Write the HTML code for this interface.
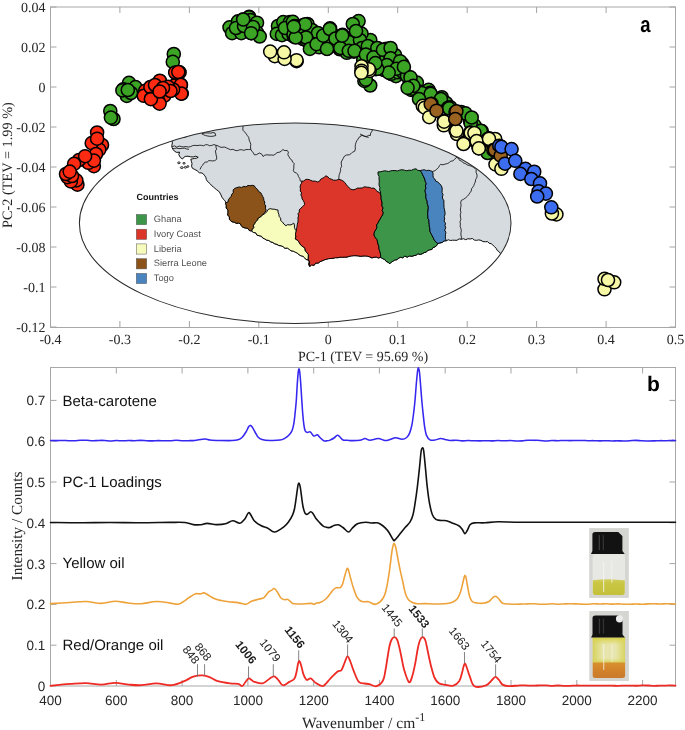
<!DOCTYPE html>
<html><head><meta charset="utf-8"><style>
html,body{margin:0;padding:0;background:#fff;width:685px;height:730px;overflow:hidden}
#wrap{will-change:transform;width:685px;height:730px}
svg{display:block} text{text-rendering:geometricPrecision}
</style></head><body><div id="wrap">
<svg width="685" height="730" viewBox="0 0 685 730">
<rect width="685" height="730" fill="#fff"/>
<g stroke="#a8a8a8" stroke-width="1" fill="none">
<rect x="50.5" y="7.0" width="625.0" height="320.5"/>
</g>
<g stroke="#a4a4a4" stroke-width="1">
<line x1="50.5" y1="327.0" x2="50.5" y2="321.0"/>
<line x1="50.5" y1="7.0" x2="50.5" y2="13.0"/>
<line x1="119.9" y1="327.0" x2="119.9" y2="321.0"/>
<line x1="119.9" y1="7.0" x2="119.9" y2="13.0"/>
<line x1="189.4" y1="327.0" x2="189.4" y2="321.0"/>
<line x1="189.4" y1="7.0" x2="189.4" y2="13.0"/>
<line x1="258.8" y1="327.0" x2="258.8" y2="321.0"/>
<line x1="258.8" y1="7.0" x2="258.8" y2="13.0"/>
<line x1="328.3" y1="327.0" x2="328.3" y2="321.0"/>
<line x1="328.3" y1="7.0" x2="328.3" y2="13.0"/>
<line x1="397.7" y1="327.0" x2="397.7" y2="321.0"/>
<line x1="397.7" y1="7.0" x2="397.7" y2="13.0"/>
<line x1="467.2" y1="327.0" x2="467.2" y2="321.0"/>
<line x1="467.2" y1="7.0" x2="467.2" y2="13.0"/>
<line x1="536.6" y1="327.0" x2="536.6" y2="321.0"/>
<line x1="536.6" y1="7.0" x2="536.6" y2="13.0"/>
<line x1="606.1" y1="327.0" x2="606.1" y2="321.0"/>
<line x1="606.1" y1="7.0" x2="606.1" y2="13.0"/>
<line x1="675.5" y1="327.0" x2="675.5" y2="321.0"/>
<line x1="675.5" y1="7.0" x2="675.5" y2="13.0"/>
<line x1="50.5" y1="7.0" x2="56.5" y2="7.0"/>
<line x1="675.5" y1="7.0" x2="669.5" y2="7.0"/>
<line x1="50.5" y1="47.0" x2="56.5" y2="47.0"/>
<line x1="675.5" y1="47.0" x2="669.5" y2="47.0"/>
<line x1="50.5" y1="87.0" x2="56.5" y2="87.0"/>
<line x1="675.5" y1="87.0" x2="669.5" y2="87.0"/>
<line x1="50.5" y1="127.0" x2="56.5" y2="127.0"/>
<line x1="675.5" y1="127.0" x2="669.5" y2="127.0"/>
<line x1="50.5" y1="167.0" x2="56.5" y2="167.0"/>
<line x1="675.5" y1="167.0" x2="669.5" y2="167.0"/>
<line x1="50.5" y1="207.0" x2="56.5" y2="207.0"/>
<line x1="675.5" y1="207.0" x2="669.5" y2="207.0"/>
<line x1="50.5" y1="247.0" x2="56.5" y2="247.0"/>
<line x1="675.5" y1="247.0" x2="669.5" y2="247.0"/>
<line x1="50.5" y1="287.0" x2="56.5" y2="287.0"/>
<line x1="675.5" y1="287.0" x2="669.5" y2="287.0"/>
<line x1="50.5" y1="327.0" x2="56.5" y2="327.0"/>
<line x1="675.5" y1="327.0" x2="669.5" y2="327.0"/>
</g>
<g style="font-family:'Liberation Serif',serif;font-size:14px" fill="#262626">
<text x="50.5" y="344.3" text-anchor="middle">-0.4</text>
<text x="119.9" y="344.3" text-anchor="middle">-0.3</text>
<text x="189.4" y="344.3" text-anchor="middle">-0.2</text>
<text x="258.8" y="344.3" text-anchor="middle">-0.1</text>
<text x="328.3" y="344.3" text-anchor="middle">0</text>
<text x="397.7" y="344.3" text-anchor="middle">0.1</text>
<text x="467.2" y="344.3" text-anchor="middle">0.2</text>
<text x="536.6" y="344.3" text-anchor="middle">0.3</text>
<text x="606.1" y="344.3" text-anchor="middle">0.4</text>
<text x="675.5" y="344.3" text-anchor="middle">0.5</text>
<text x="45.5" y="11.6" text-anchor="end">0.04</text>
<text x="45.5" y="51.6" text-anchor="end">0.02</text>
<text x="45.5" y="91.6" text-anchor="end">0</text>
<text x="45.5" y="131.6" text-anchor="end">-0.02</text>
<text x="45.5" y="171.6" text-anchor="end">-0.04</text>
<text x="45.5" y="211.6" text-anchor="end">-0.06</text>
<text x="45.5" y="251.6" text-anchor="end">-0.08</text>
<text x="45.5" y="291.6" text-anchor="end">-0.1</text>
<text x="45.5" y="331.6" text-anchor="end">-0.12</text>
<text x="363" y="361.2" text-anchor="middle">PC-1 (TEV = 95.69 %)</text>
<text transform="translate(12.3,165) rotate(-90)" text-anchor="middle" style="font-size:14.3px">PC-2 (TEV = 1.99 %)</text>
</g>
<g fill="#3ba424" stroke="#000" stroke-width="1.5">
<circle cx="113.5" cy="119" r="6.55"/>
<circle cx="110.3" cy="111" r="6.55"/>
<circle cx="110.9" cy="117.6" r="6.55"/>
<circle cx="129" cy="82.8" r="6.55"/>
<circle cx="123.4" cy="89.2" r="6.55"/>
<circle cx="135.5" cy="87.1" r="6.55"/>
<circle cx="126.8" cy="95.9" r="6.55"/>
<circle cx="122.4" cy="90.4" r="6.55"/>
<circle cx="131" cy="93" r="6.55"/>
<circle cx="127.8" cy="90" r="6.55"/>
<circle cx="173.8" cy="54" r="6.55"/>
<circle cx="172.8" cy="61.9" r="6.55"/>
<circle cx="229.5" cy="27.3" r="6.55"/>
<circle cx="232.1" cy="33.2" r="6.55"/>
<circle cx="238" cy="21.4" r="6.55"/>
<circle cx="243.2" cy="19.5" r="6.55"/>
<circle cx="249.2" cy="16.8" r="6.55"/>
<circle cx="249" cy="17.2" r="6.55"/>
<circle cx="250.5" cy="20.1" r="6.55"/>
<circle cx="257" cy="22.7" r="6.55"/>
<circle cx="247.8" cy="28.7" r="6.55"/>
<circle cx="251.1" cy="33.2" r="6.55"/>
<circle cx="257" cy="32.6" r="6.55"/>
<circle cx="259.7" cy="36.5" r="6.55"/>
<circle cx="241.3" cy="33.2" r="6.55"/>
<circle cx="236" cy="28" r="6.55"/>
<circle cx="244" cy="26" r="6.55"/>
<circle cx="253" cy="27" r="6.55"/>
<circle cx="278" cy="26" r="6.55"/>
<circle cx="283.3" cy="22.1" r="6.55"/>
<circle cx="289.9" cy="22.1" r="6.55"/>
<circle cx="293.8" cy="26.7" r="6.55"/>
<circle cx="296.5" cy="26" r="6.55"/>
<circle cx="276.8" cy="33.9" r="6.55"/>
<circle cx="282" cy="35.2" r="6.55"/>
<circle cx="288.6" cy="33.9" r="6.55"/>
<circle cx="293.8" cy="36.5" r="6.55"/>
<circle cx="300.4" cy="35.2" r="6.55"/>
<circle cx="303" cy="39.2" r="6.55"/>
<circle cx="285" cy="28" r="6.55"/>
<circle cx="292.9" cy="21.8" r="6.55"/>
<circle cx="295.8" cy="26.2" r="6.55"/>
<circle cx="293.6" cy="34.2" r="6.55"/>
<circle cx="303.1" cy="25.4" r="6.55"/>
<circle cx="307.5" cy="24" r="6.55"/>
<circle cx="307.5" cy="32.7" r="6.55"/>
<circle cx="306.1" cy="40" r="6.55"/>
<circle cx="310.4" cy="46.6" r="6.55"/>
<circle cx="316.3" cy="38.6" r="6.55"/>
<circle cx="323.6" cy="35.7" r="6.55"/>
<circle cx="330.1" cy="28.4" r="6.55"/>
<circle cx="326.5" cy="48.1" r="6.55"/>
<circle cx="319.2" cy="47.3" r="6.55"/>
<circle cx="332.3" cy="34.2" r="6.55"/>
<circle cx="339.6" cy="40" r="6.55"/>
<circle cx="342.6" cy="34.9" r="6.55"/>
<circle cx="339.6" cy="48.8" r="6.55"/>
<circle cx="348.4" cy="50.3" r="6.55"/>
<circle cx="354.2" cy="48.8" r="6.55"/>
<circle cx="351.3" cy="40" r="6.55"/>
<circle cx="355.7" cy="38.6" r="6.55"/>
<circle cx="355.7" cy="26.2" r="6.55"/>
<circle cx="358.6" cy="21.1" r="6.55"/>
<circle cx="352.8" cy="24" r="6.55"/>
<circle cx="364.5" cy="44.4" r="6.55"/>
<circle cx="370.3" cy="45.9" r="6.55"/>
<circle cx="377.6" cy="48.8" r="6.55"/>
<circle cx="370.3" cy="40" r="6.55"/>
<circle cx="365.9" cy="53.2" r="6.55"/>
<circle cx="371.8" cy="56.1" r="6.55"/>
<circle cx="377.6" cy="59" r="6.55"/>
<circle cx="384.9" cy="56.1" r="6.55"/>
<circle cx="386.4" cy="48.8" r="6.55"/>
<circle cx="383.4" cy="63.4" r="6.55"/>
<circle cx="327" cy="48.8" r="6.55"/>
<circle cx="339.9" cy="49.3" r="6.55"/>
<circle cx="346.9" cy="52.8" r="6.55"/>
<circle cx="353.9" cy="51.7" r="6.55"/>
<circle cx="366.7" cy="48.2" r="6.55"/>
<circle cx="378.4" cy="48.8" r="6.55"/>
<circle cx="390" cy="49.3" r="6.55"/>
<circle cx="391.2" cy="58.7" r="6.55"/>
<circle cx="385.4" cy="66.9" r="6.55"/>
<circle cx="391.2" cy="73.9" r="6.55"/>
<circle cx="395.9" cy="76.2" r="6.55"/>
<circle cx="370.2" cy="85.5" r="6.55"/>
<circle cx="364.4" cy="80.9" r="6.55"/>
<circle cx="376" cy="69.2" r="6.55"/>
<circle cx="369" cy="59.9" r="6.55"/>
<circle cx="363.2" cy="59.9" r="6.55"/>
<circle cx="361.5" cy="33.6" r="6.55"/>
<circle cx="365.8" cy="46.1" r="6.55"/>
<circle cx="370.2" cy="47.5" r="6.55"/>
<circle cx="378.2" cy="49" r="6.55"/>
<circle cx="389.2" cy="49" r="6.55"/>
<circle cx="390.7" cy="59.2" r="6.55"/>
<circle cx="396.5" cy="63.6" r="6.55"/>
<circle cx="402.3" cy="63.6" r="6.55"/>
<circle cx="386.3" cy="68" r="6.55"/>
<circle cx="391.4" cy="73.8" r="6.55"/>
<circle cx="398" cy="72.3" r="6.55"/>
<circle cx="402.3" cy="69.4" r="6.55"/>
<circle cx="374.6" cy="59.2" r="6.55"/>
<circle cx="368.8" cy="59.2" r="6.55"/>
<circle cx="365.8" cy="79.6" r="6.55"/>
<circle cx="410.4" cy="78.9" r="6.55"/>
<circle cx="409.6" cy="84" r="6.55"/>
<circle cx="416.9" cy="82.6" r="6.55"/>
<circle cx="418.4" cy="91.3" r="6.55"/>
<circle cx="411.1" cy="89.9" r="6.55"/>
<circle cx="428.6" cy="89.9" r="6.55"/>
<circle cx="430.1" cy="92.8" r="6.55"/>
<circle cx="441.8" cy="97.2" r="6.55"/>
<circle cx="446.1" cy="103" r="6.55"/>
<circle cx="450.5" cy="107.4" r="6.55"/>
<circle cx="410.2" cy="81.5" r="6.55"/>
<circle cx="413.1" cy="88.8" r="6.55"/>
<circle cx="421.9" cy="93.1" r="6.55"/>
<circle cx="430.7" cy="93.9" r="6.55"/>
<circle cx="419" cy="99" r="6.55"/>
<circle cx="440.9" cy="99" r="6.55"/>
<circle cx="448.2" cy="107.7" r="6.55"/>
<circle cx="461.3" cy="112.1" r="6.55"/>
<circle cx="470.1" cy="120.9" r="6.55"/>
<circle cx="474.5" cy="125.3" r="6.55"/>
<circle cx="481.8" cy="131.1" r="6.55"/>
<circle cx="487.6" cy="153" r="6.55"/>
<circle cx="465.5" cy="113.4" r="6.55"/>
<circle cx="470.7" cy="123.6" r="6.55"/>
<circle cx="449.2" cy="108.3" r="6.55"/>
<circle cx="471.7" cy="117.5" r="6.55"/>
<circle cx="480.9" cy="130.8" r="6.55"/>
<circle cx="300" cy="30" r="6.55"/>
<circle cx="312" cy="30" r="6.55"/>
<circle cx="318" cy="42" r="6.55"/>
<circle cx="325" cy="42" r="6.55"/>
<circle cx="330" cy="40" r="6.55"/>
<circle cx="336" cy="44" r="6.55"/>
<circle cx="345" cy="45" r="6.55"/>
<circle cx="349" cy="42" r="6.55"/>
<circle cx="318" cy="33" r="6.55"/>
<circle cx="312" cy="44" r="6.55"/>
<circle cx="360" cy="40" r="6.55"/>
<circle cx="362" cy="48" r="6.55"/>
<circle cx="372" cy="52" r="6.55"/>
<circle cx="380" cy="55" r="6.55"/>
<circle cx="383" cy="58" r="6.55"/>
<circle cx="393" cy="64" r="6.55"/>
<circle cx="395" cy="55" r="6.55"/>
<circle cx="403" cy="72" r="6.55"/>
<circle cx="407" cy="76" r="6.55"/>
<circle cx="380" cy="62" r="6.55"/>
<circle cx="384" cy="70" r="6.55"/>
<circle cx="356" cy="31" r="6.55"/>
<circle cx="294.7" cy="26.1" r="6.55"/>
<circle cx="305.2" cy="24.2" r="6.55"/>
<circle cx="306.1" cy="37.5" r="6.55"/>
<circle cx="295.7" cy="37.5" r="6.55"/>
<circle cx="309.9" cy="48.9" r="6.55"/>
<circle cx="316.6" cy="44.2" r="6.55"/>
<circle cx="323.2" cy="35.6" r="6.55"/>
<circle cx="329.8" cy="29" r="6.55"/>
<circle cx="327" cy="48.9" r="6.55"/>
<circle cx="335.5" cy="38.5" r="6.55"/>
<circle cx="340.3" cy="48" r="6.55"/>
<circle cx="342.2" cy="35.6" r="6.55"/>
<circle cx="348.8" cy="50.8" r="6.55"/>
<circle cx="354.5" cy="50.8" r="6.55"/>
<circle cx="367.8" cy="46.1" r="6.55"/>
<circle cx="377.3" cy="48" r="6.55"/>
<circle cx="365.9" cy="54.6" r="6.55"/>
<circle cx="373.5" cy="57.4" r="6.55"/>
<circle cx="383" cy="49.8" r="6.55"/>
<circle cx="390.6" cy="48" r="6.55"/>
<circle cx="390.6" cy="58.4" r="6.55"/>
<circle cx="400.1" cy="61.2" r="6.55"/>
<circle cx="386.8" cy="65" r="6.55"/>
<circle cx="396.3" cy="68.8" r="6.55"/>
<circle cx="403.9" cy="66.9" r="6.55"/>
<circle cx="388.7" cy="72.6" r="6.55"/>
<circle cx="410.5" cy="77.4" r="6.55"/>
<circle cx="413.3" cy="85.9" r="6.55"/>
<circle cx="407.6" cy="87.8" r="6.55"/>
<circle cx="377.3" cy="68.8" r="6.55"/>
<circle cx="375.4" cy="63.1" r="6.55"/>
<circle cx="243.2" cy="19.5" r="6.55"/>
<circle cx="251.1" cy="33.2" r="6.55"/>
<circle cx="293.8" cy="26.7" r="6.55"/>
</g>
<g fill="#ff2a12" stroke="#000" stroke-width="1.5">
<circle cx="102" cy="145" r="6.55"/>
<circle cx="99.3" cy="149.6" r="6.55"/>
<circle cx="97.1" cy="132.5" r="6.55"/>
<circle cx="91.7" cy="143.1" r="6.55"/>
<circle cx="96" cy="154" r="6.55"/>
<circle cx="93.9" cy="166.1" r="6.55"/>
<circle cx="88.4" cy="162.8" r="6.55"/>
<circle cx="93.9" cy="160.6" r="6.55"/>
<circle cx="97.1" cy="138.7" r="6.55"/>
<circle cx="79" cy="160" r="6.55"/>
<circle cx="74.1" cy="163.9" r="6.55"/>
<circle cx="85.1" cy="156.2" r="6.55"/>
<circle cx="77.4" cy="184.7" r="6.55"/>
<circle cx="76.3" cy="180.4" r="6.55"/>
<circle cx="70.8" cy="181.4" r="6.55"/>
<circle cx="67.5" cy="177.1" r="6.55"/>
<circle cx="72" cy="176" r="6.55"/>
<circle cx="66" cy="174" r="6.55"/>
<circle cx="69.7" cy="171.6" r="6.55"/>
<circle cx="145.3" cy="90.7" r="6.55"/>
<circle cx="143.8" cy="95.8" r="6.55"/>
<circle cx="150.4" cy="87" r="6.55"/>
<circle cx="159.9" cy="81.2" r="6.55"/>
<circle cx="159.1" cy="91.4" r="6.55"/>
<circle cx="158.4" cy="102.3" r="6.55"/>
<circle cx="151.1" cy="98.7" r="6.55"/>
<circle cx="164.2" cy="95.8" r="6.55"/>
<circle cx="168.6" cy="87.7" r="6.55"/>
<circle cx="175.9" cy="73.1" r="6.55"/>
<circle cx="179.6" cy="72.4" r="6.55"/>
<circle cx="181" cy="84.8" r="6.55"/>
<circle cx="181.8" cy="93.6" r="6.55"/>
<circle cx="174.5" cy="85.5" r="6.55"/>
<circle cx="175.2" cy="72.5" r="6.55"/>
<circle cx="178.3" cy="72" r="6.55"/>
<circle cx="180.8" cy="84.8" r="6.55"/>
<circle cx="181.3" cy="93.6" r="6.55"/>
<circle cx="173.1" cy="89.5" r="6.55"/>
<circle cx="159.8" cy="80.7" r="6.55"/>
<circle cx="159.2" cy="91.5" r="6.55"/>
<circle cx="158.2" cy="100.8" r="6.55"/>
<circle cx="168" cy="86.9" r="6.55"/>
<circle cx="170.5" cy="91" r="6.55"/>
<circle cx="155" cy="85" r="6.55"/>
<circle cx="163" cy="88" r="6.55"/>
<circle cx="159.6" cy="103.6" r="6.55"/>
<circle cx="150.9" cy="99.2" r="6.55"/>
<circle cx="159.6" cy="91.5" r="6.55"/>
</g>
<g fill="#f6f8a6" stroke="#000" stroke-width="1.5">
<circle cx="296.6" cy="61.2" r="6.55"/>
<circle cx="296.5" cy="60.2" r="6.55"/>
<circle cx="274.8" cy="56.2" r="6.55"/>
<circle cx="270.2" cy="51.6" r="6.55"/>
<circle cx="284.6" cy="58.9" r="6.55"/>
<circle cx="284" cy="52.3" r="6.55"/>
<circle cx="369.6" cy="70.9" r="6.55"/>
<circle cx="368.8" cy="69.2" r="6.55"/>
<circle cx="361.5" cy="66.3" r="6.55"/>
<circle cx="361.5" cy="70.7" r="6.55"/>
<circle cx="361.3" cy="72.8" r="6.55"/>
<circle cx="422.8" cy="105.9" r="6.55"/>
<circle cx="424.8" cy="107.7" r="6.55"/>
<circle cx="429.2" cy="117.2" r="6.55"/>
<circle cx="443.8" cy="120.9" r="6.55"/>
<circle cx="443.8" cy="125.3" r="6.55"/>
<circle cx="455.5" cy="130.4" r="6.55"/>
<circle cx="456.9" cy="134" r="6.55"/>
<circle cx="470.1" cy="132.6" r="6.55"/>
<circle cx="464.2" cy="142.8" r="6.55"/>
<circle cx="475.9" cy="141.3" r="6.55"/>
<circle cx="478.8" cy="147.2" r="6.55"/>
<circle cx="489.1" cy="138.4" r="6.55"/>
<circle cx="444.1" cy="121.6" r="6.55"/>
<circle cx="456.4" cy="130.8" r="6.55"/>
<circle cx="470.7" cy="132.8" r="6.55"/>
<circle cx="463.5" cy="144" r="6.55"/>
<circle cx="476.8" cy="141" r="6.55"/>
<circle cx="478.8" cy="148.1" r="6.55"/>
<circle cx="488" cy="139" r="6.55"/>
<circle cx="495.2" cy="139" r="6.55"/>
<circle cx="474.4" cy="133" r="6.55"/>
<circle cx="476.6" cy="141.1" r="6.55"/>
<circle cx="478.8" cy="148.4" r="6.55"/>
<circle cx="489" cy="138.9" r="6.55"/>
<circle cx="495.5" cy="164.4" r="6.55"/>
<circle cx="501.4" cy="168.8" r="6.55"/>
<circle cx="556.4" cy="214.4" r="6.55"/>
<circle cx="551.9" cy="213.5" r="6.55"/>
<circle cx="604.5" cy="289.3" r="6.55"/>
<circle cx="614.2" cy="282.3" r="6.55"/>
<circle cx="604.5" cy="278.8" r="6.55"/>
<circle cx="608" cy="280" r="6.55"/>
</g>
<g fill="#9a6220" stroke="#000" stroke-width="1.5">
<circle cx="431.5" cy="103.7" r="6.55"/>
<circle cx="430.7" cy="104.1" r="6.55"/>
<circle cx="436.5" cy="110.7" r="6.55"/>
<circle cx="455.5" cy="112.1" r="6.55"/>
<circle cx="455.5" cy="118.7" r="6.55"/>
<circle cx="456.4" cy="111.3" r="6.55"/>
<circle cx="455.3" cy="119" r="6.55"/>
<circle cx="493.4" cy="150.1" r="6.55"/>
<circle cx="494.8" cy="149.8" r="6.55"/>
<circle cx="500.7" cy="155.7" r="6.55"/>
</g>
<g fill="#3c6cf0" stroke="#000" stroke-width="1.5">
<circle cx="499.3" cy="145.7" r="6.55"/>
<circle cx="501.4" cy="146.9" r="6.55"/>
<circle cx="511.6" cy="149.1" r="6.55"/>
<circle cx="505" cy="163.7" r="6.55"/>
<circle cx="515.3" cy="160.8" r="6.55"/>
<circle cx="525.5" cy="168.8" r="6.55"/>
<circle cx="520.4" cy="173.9" r="6.55"/>
<circle cx="534.2" cy="171.7" r="6.55"/>
<circle cx="531.3" cy="179" r="6.55"/>
<circle cx="540" cy="183.4" r="6.55"/>
<circle cx="538.6" cy="191.4" r="6.55"/>
<circle cx="545.9" cy="193.6" r="6.55"/>
<circle cx="537.2" cy="196.5" r="6.55"/>
<circle cx="551.3" cy="207.3" r="6.55"/>
</g>
<defs><clipPath id="ell"><ellipse cx="295.2" cy="223.2" rx="215.8" ry="100.3"/></clipPath></defs>
<ellipse cx="295.2" cy="223.2" rx="215.8" ry="100.3" fill="#fff"/>
<g clip-path="url(#ell)">
<polygon points="165,140 167.25,140.96 169.74,139.85 172,140.8 172.38,142.97 171.88,145.13 171.9,147.3 173,149.5 174.58,151.3 176.7,152.4 179.6,152.2 178.8,154.6 180.3,157.5 182.5,159 183.68,157.4 185.4,156.4 187.98,156.21 190.5,156.8 193.16,157.01 195.7,156.2 198.2,157.3 196.46,158.23 194.5,158.4 192.65,158.81 190.8,159.2 191.3,161.2 192,163.4 191.6,166.3 192.38,168.22 194.2,169.2 197.1,170.7 199.3,172.8 201.23,172.84 203,173.6 204.8,175.8 205.89,177.51 206.3,179.5 207.5,181.5 208.95,182.65 210.31,183.89 211.4,185.4 213.22,186.8 214.93,188.34 216.7,189.8 218.67,191.15 220.0,193.03 221.1,195.1 221.88,197.1 223.04,198.83 224.6,200.3 225.61,201.93 226.12,203.71 226.3,205.6 226.15,208.11 228.04,210.12 228,212.6 227.61,214.98 229.45,216.89 229.4,219.2 230.52,220.68 232,221.8 234.22,222.12 236.26,223.39 238.6,223.1 240.52,223.78 241.2,225.7 242.98,227.39 245.3,228.01 247.83,228.24 249.28,230.58 251.7,231 253.37,232.46 255.76,232.74 256.87,235.12 259.06,235.72 261.4,236.08 262.75,238.07 264.8,238.9 266.68,240.16 268.96,240.47 270.75,241.92 272.91,242.54 274.76,243.85 276.95,244.37 278.85,245.59 281.18,245.77 283.2,246.7 284.87,248.3 287.48,248.01 289.27,249.36 291.02,250.82 293.35,251.08 295.32,252.08 297.29,253.08 299,254.6 300.79,255.74 303.0,256.16 304.56,257.71 305.96,259.53 308.2,259.9 309.43,261.9 308.64,264.36 309.7,266.4 311.5,264.86 314.21,265.35 315.63,262.98 318.2,263.16 320.02,261.67 322.14,260.84 324.2,259.9 326.43,259.18 328.68,258.57 330.99,258.43 333.29,258.19 335.54,257.58 337.89,257.7 340.13,257.06 342.5,257.3 344.76,257.15 347.03,257.08 349.24,256.3 351.47,255.84 353.72,255.6 356.0,255.64 358.3,255.9 360.54,256.34 362.84,256.04 365.13,255.84 367.38,256.1 369.59,256.81 371.77,257.92 374.1,257.3 376.27,257.03 378.43,258.08 380.6,257.3 382.48,258.55 384.69,259.32 386.03,261.33 388.13,262.25 389.8,263.8 391.16,262.06 392.98,261.06 394.73,259.94 397.01,259.71 398.52,258.2 400.4,257.3 402.77,257.83 404.83,255.93 407.3,257.26 409.44,255.93 411.8,256.38 414,255.6 416.1,255.2 417.89,253.68 420.32,254.46 422.34,253.75 424.21,252.53 426.3,252.1 427.66,250.43 429.63,249.77 431.86,249.56 432.96,247.43 435,246.9 436.79,245.49 437.7,243.4 439.95,242.98 442.19,242.5 444.06,240.86 446.4,240.7 448.4,239.77 450.54,240.5 452.6,240.2 454.8,240.25 457.01,240.3 459.06,238.89 461.3,239.3 463.48,238.71 465.72,239.7 467.89,238.73 470.1,239 472.35,238.47 474.38,240.1 476.56,240.35 478.8,239.9 480.99,240.39 483.04,241.59 485.28,241.78 487.6,241.6 489.08,243.2 491.28,243.72 492.9,245.1 494.54,246.7 496.19,248.29 497.2,250.4 499.25,251.85 500.7,253.9 501.92,255.49 504.17,256.0 505,258 507.09,258.78 509.17,259.58 511.27,260.29 513.43,260.81 515.6,261.27 517.87,261.37 520,262 520,100 165,100" fill="#d5dbde" stroke="#000" stroke-width="0.95" stroke-linejoin="round"/>
<polygon points="228,202 228.37,199.78 229.7,198.02 231.18,196.34 231.8,194.24 233.29,192.56 233.13,190.09 234.6,188.4 236.84,187.63 239.11,186.94 241.65,187.47 243.8,186.3 245.93,186.92 247.97,185.4 250.09,185.73 252.17,185.28 254.3,185.8 255.6,187.9 257.5,189.45 258.76,191.58 260.9,192.9 261.78,194.7 262.69,196.48 263.63,198.26 263.85,200.33 264.8,202.1 264.53,204.18 265.83,205.99 265.3,208.12 266.2,210 265.26,212.03 263.59,213.51 262.2,215.2 260.66,216.96 258.4,218.0 257.45,220.35 255.6,221.8 254.79,223.63 253.47,225.24 253.89,227.59 252.54,229.19 251.7,231 249.33,230.47 247.77,228.34 245.32,227.98 243.03,227.29 241.2,225.7 240.42,223.88 238.6,223.1 236.28,223.27 234.22,222.14 232,221.8 230.55,220.65 229.4,219.2 229.37,216.91 227.75,214.95 228,212.6 227.94,210.14 226.27,208.08 226.3,205.6 225.4,203" fill="#8b531a" stroke="#000" stroke-width="0.95" stroke-linejoin="round"/>
<polygon points="251.7,231 252.54,229.19 253.89,227.59 253.47,225.24 254.79,223.63 255.6,221.8 257.45,220.35 258.4,218.0 260.66,216.96 262.2,215.2 264.0,214.14 265.7,212.97 267.06,211.39 268.15,209.48 270.1,208.6 272.05,209.11 274.08,209.16 276.01,209.72 278,210 278.03,212.22 278.83,214.25 279.13,216.41 280.66,218.26 280.6,220.5 282.51,222.09 283.95,224.15 285.9,225.7 287.71,224.63 290.01,225.02 291.98,224.43 293.7,223.1 294.45,225.05 294.4,227.27 295.09,229.24 296.4,231 296.09,232.97 296.04,234.98 295.76,236.95 295.3,238.9 297.24,240.08 298.85,241.59 299.82,243.74 301.23,245.45 303.1,246.7 305.01,248.28 305.31,250.94 307.09,252.61 308.4,254.6 308.37,256.99 308.23,259.4 309.62,261.63 309.32,264.05 309.7,266.4 308.73,264.34 309.31,261.93 308.2,259.9 306.03,259.42 304.55,257.72 302.95,256.25 300.8,255.73 299,254.6 297.25,253.17 295.28,252.17 293.31,251.18 291.03,250.79 289.25,249.41 287.43,248.12 284.92,248.2 283.2,246.7 281.18,245.78 278.89,245.49 276.97,244.32 274.8,243.75 272.92,242.51 270.78,241.85 268.95,240.5 266.71,240.09 264.8,238.9 262.78,238.02 261.34,236.17 259.08,235.68 256.94,235.0 255.71,232.82 253.4,232.41" fill="#f7fbbb" stroke="#000" stroke-width="0.95" stroke-linejoin="round"/>
<polygon points="300.5,185 301.55,183.18 301.8,181.1 303.82,181.07 305.36,179.57 307.3,179.3 309.16,179.63 310.87,180.39 312.6,181.1 315.27,181.14 317.8,182 319.56,181.16 320.53,179.35 322.2,178.4 324.2,177.44 325.7,175.8 327.75,176.7 329.2,178.4 331.43,179.22 333.6,180.2 336.28,180.22 338.8,179.3 341.1,179.95 343.2,181.1 344.9,182.64 346.23,184.49 347.6,186.3 349.19,187.73 350.77,189.18 352.9,189.8 355.26,189.35 357.43,188.12 359.9,188.1 362.25,187.91 364.47,186.78 366.9,187.2 369.26,187.33 371.51,188.24 373.9,188.1 375.68,189.51 377.0,191.42 379.24,192.33 380.6,194.2 381.17,196.47 381.07,198.83 381.7,201.09 382.13,203.37 381.84,205.77 383.12,207.93 382.23,210.41 383.3,212.6 382.66,214.91 381.3,216.86 380.26,218.97 378.98,220.96 378,223.1 376.6,224.97 376.96,227.49 375.97,229.51 374.72,231.44 374.1,233.6 374.26,235.93 375.55,237.84 377.1,239.66 377.51,241.89 378,244.1 378.87,246.11 378.89,248.34 379.46,250.42 380.18,252.48 380.6,254.6 380.6,257.3 378.43,257.95 376.27,257.07 374.1,257.3 371.78,257.78 369.59,256.82 367.37,256.2 365.12,255.95 362.83,256.08 360.54,256.3 358.3,255.9 356.01,255.72 353.73,255.72 351.48,255.95 349.24,256.37 347.03,257.05 344.76,257.14 342.5,257.3 340.15,257.15 337.9,257.74 335.56,257.7 333.3,258.26 331.0,258.51 328.69,258.68 326.44,259.25 324.2,259.9 322.13,260.84 320.02,261.68 318.16,263.08 315.68,263.08 314.15,265.22 311.54,264.96 309.7,266.4 309.32,264.05 309.62,261.63 308.23,259.4 308.37,256.99 308.4,254.6 307.09,252.61 305.31,250.94 305.01,248.28 303.1,246.7 301.23,245.45 299.82,243.74 298.85,241.59 297.24,240.08 295.3,238.9 295.88,236.84 295.47,234.66 295.73,232.56 296.41,230.51 296.6,228.4 297.07,226.31 297.33,224.19 297.95,222.11 298.14,219.98 297.9,217.8 298.6,215.91 297.96,213.8 299.4,212.04 299.2,210 300.88,208.14 302.75,206.49 304.5,204.7 304.28,202.57 303.37,200.68 302.1,198.9 301.8,196.8 300.85,194.93 301.6,192.78 300.18,190.98 300.5,188.9 300.07,186.95" fill="#dc3529" stroke="#000" stroke-width="0.95" stroke-linejoin="round"/>
<polygon points="378,171.9 380.13,171.83 382.23,171.36 384.33,170.79 386.49,171.06 388.66,171.52 390.74,170.84 392.86,170.52 395,170.6 397.34,170.92 399.66,170.17 401.98,169.66 404.33,170.19 406.68,170.72 409,170.2 411.45,170.32 413.66,169.24 416,168.8 417.78,170.33 420.1,170.7 421.66,172.52 422.64,174.68 423.7,176.8 424.72,179.08 425.35,181.5 426.3,183.8 425.35,185.93 425.99,188.21 425.05,190.34 425.4,192.6 426.03,194.74 425.79,197.06 426.31,199.22 427.2,201.3 427.23,203.52 427.97,205.67 428.38,207.85 428,210.1 427.84,212.16 427.65,214.21 427.94,216.24 427.87,218.29 428.97,220.25 428.9,222.3 429.3,224.48 429.31,226.7 429.98,228.86 429.8,231.1 430.86,233.32 432.08,235.46 433.19,237.66 434.2,239.9 435.72,241.88 437.7,243.4 436.72,245.43 435,246.9 433.01,247.52 431.81,249.46 429.66,249.81 427.73,250.54 426.3,252.1 424.21,252.55 422.31,253.67 420.29,254.36 417.92,253.81 416.09,255.17 414,255.6 411.78,256.3 409.44,255.97 407.28,257.13 404.85,256.06 402.75,257.7 400.4,257.3 398.54,258.23 396.99,259.67 394.79,260.04 393.04,261.16 391.23,262.17 389.8,263.8 388.11,262.29 386.04,261.31 384.62,259.41 382.47,258.55 380.6,257.3 380.6,254.6 380.18,252.48 379.46,250.42 378.89,248.34 378.87,246.11 378,244.1 377.51,241.89 377.1,239.66 375.55,237.84 374.26,235.93 374.1,233.6 374.72,231.44 375.97,229.51 376.96,227.49 376.6,224.97 378,223.1 378.98,220.96 380.26,218.97 381.3,216.86 382.66,214.91 383.3,212.6 382.23,210.41 383.12,207.93 381.84,205.77 382.13,203.37 381.7,201.09 381.07,198.83 381.17,196.47 380.6,194.2 380.58,192.0 379.55,189.89 379.98,187.65 379.11,185.53 379.04,183.33 379.3,181.1 378.98,178.8 379.08,176.44 378.02,174.24" fill="#3d954a" stroke="#000" stroke-width="0.95" stroke-linejoin="round"/>
<polygon points="420.1,170.7 422.25,170.02 424.5,169.8 426.39,170.62 428.54,170.24 430.51,170.7 432.4,171.5 433.08,173.51 433.01,175.63 433.3,177.7 434.83,179.07 435.75,181.07 437.7,182 439.59,183.61 441.2,185.5 442.17,187.79 442.16,190.19 442,192.6 443.05,194.58 442.41,196.85 442.8,198.95 444.0,200.9 443.8,203.1 443.99,205.34 444.04,207.59 444.52,209.81 444.94,212.04 445.08,214.28 444.24,216.58 444.7,218.8 444.08,221.09 445.53,223.28 445.02,225.57 445.76,227.8 444.68,230.12 445.86,232.32 445.5,234.6 445.36,236.7 445.47,238.76 446.4,240.7 444.09,240.94 442.17,242.42 439.94,242.94 437.7,243.4 435.72,241.88 434.2,239.9 433.19,237.66 432.08,235.46 430.86,233.32 429.8,231.1 429.98,228.86 429.31,226.7 429.3,224.48 428.9,222.3 428.97,220.25 427.87,218.29 427.94,216.24 427.65,214.21 427.84,212.16 428,210.1 428.38,207.85 427.97,205.67 427.23,203.52 427.2,201.3 426.31,199.22 425.79,197.06 426.03,194.74 425.4,192.6 425.05,190.34 425.99,188.21 425.35,185.93 426.3,183.8 425.35,181.5 424.72,179.08 423.7,176.8 422.64,174.68 421.66,172.52" fill="#4a84bf" stroke="#000" stroke-width="0.95" stroke-linejoin="round"/>
<g fill="none" stroke="#111" stroke-width="0.85" stroke-linejoin="round">
<polyline points="172.3,148.2 174.2,148.82 176.17,148.0 178.08,148.48 180,148.6 182.29,148.3 184.56,148.21 186.76,149.03 189,149.3"/>
<polyline points="172.3,146.6 174.58,145.88 176.85,147.19 179.12,146.0 181.4,146.63 183.68,146.92 185.95,146.52 188.22,147.06 190.5,146.6 192.61,145.64 194.9,145.3 197.01,145.64 199.12,145.27 201.23,145.27 203.34,145.81 205.45,144.78 207.56,144.74 209.67,145.76 211.78,145.38 213.89,144.59 216,145.3 218.04,145.87 219.94,147.02 222.04,147.36 224.31,147.0 226.3,147.8 228.4,148.8 230.53,149.69 233.03,149.31 235.1,150.4 237.28,150.65 239.45,149.89 241.62,149.67 243.8,150.4 246.06,149.52 248.43,149.54 250.8,149.5"/>
<polyline points="242.1,124 243.1,126.0 242.83,128.18 243,130.3 244.59,131.9 246.01,133.64 247.3,135.5 248.77,137.46 249.08,139.89 249.99,142.08 250.8,144.3 250.49,146.9 250.8,149.5 252.01,151.24 253.36,152.89 254.3,154.8 256.25,154.74 257.91,153.83 259.6,153 261.85,154.25 263.1,156.5 264.66,155.27 266.6,154.8 268.93,155.04 271.27,155.0 273.6,155.2 275.42,154.04 277.09,152.6 279.3,152.2 281.34,151.22 282.8,149.5 284.86,150.65 287.2,150.4 288.42,152.25 287.81,154.61 288.9,156.5 289.9,158.52 291.72,159.92 292.61,162.02 294.2,163.6 293.79,165.92 293.85,168.3 293.3,170.6 294.37,172.26 296.23,172.93 297.7,174.1 298.42,176.49 299.84,178.62 300.3,181.1 301.8,181.1"/>
<polyline points="216,145.3 215.98,147.23 216.61,149.17 215.38,151.06 215.8,153 216.14,155.06 216.69,157.09 216.7,159.2 214.74,160.67 212.3,160.9 210.55,160.73 208.8,160.6 207.34,161.98 205.24,162.18 203.7,163.4 202.82,165.02 201.5,166.3 200.76,167.9 200,169.5"/>
<polyline points="338.8,179.3 338.92,177.06 339.17,174.84 339.98,172.74 340.6,170.6 340.54,168.42 341.63,166.42 341.3,164.19 341.23,162.0 342.3,160 343.29,158.3 344.1,156.5 346.49,154.99 349.3,154.8 351.07,153.64 352.59,152.1 354.6,151.3 355.39,149.03 355.21,146.63 355.5,144.3 356.05,142.38 356.88,140.59 358.1,139 358.98,137.3 360.82,136.37 361.6,134.6 363.24,135.57 364.93,136.39 366.9,136.4 368.5,135.39 370.4,135.5 370.66,133.07 372.1,131.1 372.66,128.9 373.9,127"/>
<polyline points="360,133.8 361.73,135.39 364,136 366.32,136.94 368.8,137.3"/>
<polyline points="432.4,171.5 435.06,170.68 437.1,168.8 438.54,167.55 439.34,165.79 440.6,164.4 443.02,164.8 445.29,164.02 447.6,163.5 449.29,162.55 450.77,161.18 452.8,160.9 454.72,159.27 456.4,157.4 456.25,154.9 456.74,152.46 457,150"/>
<polyline points="456.4,157.4 458.43,158.31 459.53,160.37 461.68,161.13 463.1,162.8 465.3,163.61 467.3,164.92 469.55,165.61 471.8,166.3 473.4,167.29 475.0,168.3 476.2,169.8 476.1,172.5 477.1,175 476.88,177.43 475.6,179.59 475.3,182 474.4,183.75 473.81,185.65 472.7,187.3 471.46,188.88 471.27,190.98 470.1,192.6 468.82,194.49 467.39,196.26 465.7,197.8 463.59,199.24 461.3,200.4 460.67,202.79 461.14,205.28 460.63,207.68 460.4,210.1 460.86,212.43 460.26,214.77 460.51,217.1 460.89,219.43 460.0,221.77 460.4,224.1 460.13,226.3 460.87,228.43 461.32,230.58 460.94,232.78 460.93,234.96 461.45,237.11 461.3,239.3"/>
<polyline points="201.8,133.8 204.35,133.05 207,132.9 208.97,133.01 210.95,133.12 212.93,132.56 214.9,132.9 215.8,135.5 213.19,136.21 210.5,136.4 207.88,136.06 205.3,135.5 203.53,134.69 201.8,133.8"/>
<polyline points="182.5,137.3 184.81,137.41 186.9,136.4"/>
<ellipse cx="178.9" cy="162.8" rx="1.3" ry="0.9" fill="#d5dbde"/>
<ellipse cx="184" cy="163.3" rx="1.1" ry="0.9" fill="#d5dbde"/>
<ellipse cx="181.8" cy="167.6" rx="1.5" ry="0.9" fill="#d5dbde"/>
<ellipse cx="185.4" cy="167.3" rx="1.2" ry="0.9" fill="#d5dbde"/>
<ellipse cx="187.8" cy="166.5" rx="1.0" ry="0.9" fill="#d5dbde"/>
</g>
</g>
<ellipse cx="295.2" cy="223.2" rx="215.8" ry="100.3" fill="none" stroke="#2a2a2a" stroke-width="1.05"/>
<text x="136.6" y="199.8" style="font-family:'Liberation Sans',sans-serif;font-size:9px;font-weight:bold" fill="#111">Countries</text>
<rect x="136.3" y="214.5" width="10.4" height="10.2" fill="#3d954a" stroke="#555" stroke-width="0.5"/>
<text x="153.8" y="222.2" style="font-family:'Liberation Sans',sans-serif;font-size:9.3px" fill="#505050">Ghana</text>
<rect x="136.3" y="229.2" width="10.4" height="10.2" fill="#dc3529" stroke="#555" stroke-width="0.5"/>
<text x="153.8" y="236.9" style="font-family:'Liberation Sans',sans-serif;font-size:9.3px" fill="#505050">Ivory Coast</text>
<rect x="136.3" y="243.9" width="10.4" height="10.2" fill="#f7fbbb" stroke="#555" stroke-width="0.5"/>
<text x="153.8" y="251.6" style="font-family:'Liberation Sans',sans-serif;font-size:9.3px" fill="#505050">Liberia</text>
<rect x="136.3" y="258.7" width="10.4" height="10.2" fill="#8b531a" stroke="#555" stroke-width="0.5"/>
<text x="153.8" y="266.4" style="font-family:'Liberation Sans',sans-serif;font-size:9.3px" fill="#505050">Sierra Leone</text>
<rect x="136.3" y="273.4" width="10.4" height="10.2" fill="#4a84bf" stroke="#555" stroke-width="0.5"/>
<text x="153.8" y="281.1" style="font-family:'Liberation Sans',sans-serif;font-size:9.3px" fill="#505050">Togo</text>
<g stroke="#a8a8a8" stroke-width="1" fill="none">
<rect x="50.5" y="367.5" width="625.0" height="318.5"/>
</g>
<g stroke="#a4a4a4" stroke-width="1">
<line x1="50.5" y1="686.0" x2="50.5" y2="680.0"/>
<line x1="50.5" y1="367.5" x2="50.5" y2="373.5"/>
<line x1="116.3" y1="686.0" x2="116.3" y2="680.0"/>
<line x1="116.3" y1="367.5" x2="116.3" y2="373.5"/>
<line x1="182.1" y1="686.0" x2="182.1" y2="680.0"/>
<line x1="182.1" y1="367.5" x2="182.1" y2="373.5"/>
<line x1="247.9" y1="686.0" x2="247.9" y2="680.0"/>
<line x1="247.9" y1="367.5" x2="247.9" y2="373.5"/>
<line x1="313.7" y1="686.0" x2="313.7" y2="680.0"/>
<line x1="313.7" y1="367.5" x2="313.7" y2="373.5"/>
<line x1="379.4" y1="686.0" x2="379.4" y2="680.0"/>
<line x1="379.4" y1="367.5" x2="379.4" y2="373.5"/>
<line x1="445.2" y1="686.0" x2="445.2" y2="680.0"/>
<line x1="445.2" y1="367.5" x2="445.2" y2="373.5"/>
<line x1="511.0" y1="686.0" x2="511.0" y2="680.0"/>
<line x1="511.0" y1="367.5" x2="511.0" y2="373.5"/>
<line x1="576.8" y1="686.0" x2="576.8" y2="680.0"/>
<line x1="576.8" y1="367.5" x2="576.8" y2="373.5"/>
<line x1="642.6" y1="686.0" x2="642.6" y2="680.0"/>
<line x1="642.6" y1="367.5" x2="642.6" y2="373.5"/>
<line x1="50.5" y1="686.0" x2="56.5" y2="686.0"/>
<line x1="675.5" y1="686.0" x2="669.5" y2="686.0"/>
<line x1="50.5" y1="645.2" x2="56.5" y2="645.2"/>
<line x1="675.5" y1="645.2" x2="669.5" y2="645.2"/>
<line x1="50.5" y1="604.4" x2="56.5" y2="604.4"/>
<line x1="675.5" y1="604.4" x2="669.5" y2="604.4"/>
<line x1="50.5" y1="563.6" x2="56.5" y2="563.6"/>
<line x1="675.5" y1="563.6" x2="669.5" y2="563.6"/>
<line x1="50.5" y1="522.8" x2="56.5" y2="522.8"/>
<line x1="675.5" y1="522.8" x2="669.5" y2="522.8"/>
<line x1="50.5" y1="482.0" x2="56.5" y2="482.0"/>
<line x1="675.5" y1="482.0" x2="669.5" y2="482.0"/>
<line x1="50.5" y1="441.2" x2="56.5" y2="441.2"/>
<line x1="675.5" y1="441.2" x2="669.5" y2="441.2"/>
<line x1="50.5" y1="400.4" x2="56.5" y2="400.4"/>
<line x1="675.5" y1="400.4" x2="669.5" y2="400.4"/>
</g>
<g style="font-family:'Liberation Sans',sans-serif;font-size:13.5px" fill="#262626">
<text x="50.5" y="704.9" text-anchor="middle">400</text>
<text x="116.3" y="704.9" text-anchor="middle">600</text>
<text x="182.1" y="704.9" text-anchor="middle">800</text>
<text x="247.9" y="704.9" text-anchor="middle">1000</text>
<text x="313.7" y="704.9" text-anchor="middle">1200</text>
<text x="379.4" y="704.9" text-anchor="middle">1400</text>
<text x="445.2" y="704.9" text-anchor="middle">1600</text>
<text x="511.0" y="704.9" text-anchor="middle">1800</text>
<text x="576.8" y="704.9" text-anchor="middle">2000</text>
<text x="642.6" y="704.9" text-anchor="middle">2200</text>
<text x="45.3" y="690.9" text-anchor="end">0</text>
<text x="45.3" y="650.1" text-anchor="end">0.1</text>
<text x="45.3" y="609.3" text-anchor="end">0.2</text>
<text x="45.3" y="568.5" text-anchor="end">0.3</text>
<text x="45.3" y="527.7" text-anchor="end">0.4</text>
<text x="45.3" y="486.9" text-anchor="end">0.5</text>
<text x="45.3" y="446.1" text-anchor="end">0.6</text>
<text x="45.3" y="405.3" text-anchor="end">0.7</text>
</g>
<text x="302" y="727.5" style="font-family:'Liberation Serif',serif;font-size:15.5px" fill="#262626">Wavenumber / cm<tspan dy="-6.8" style="font-size:12px">-1</tspan></text>
<text transform="translate(21.7,526) rotate(-90)" text-anchor="middle" style="font-family:'Liberation Serif',serif;font-size:15.3px" fill="#262626">Intensity / Counts</text>
<g style="font-family:'Liberation Sans',sans-serif;font-size:15px" fill="#111">
<text x="62.5" y="406">Beta-carotene</text>
<text x="62.5" y="487.2">PC-1 Loadings</text>
<text x="62.5" y="568.4">Yellow oil</text>
<text x="62.5" y="649.7">Red/Orange oil</text>
</g>
<g fill="none" stroke-linejoin="round" stroke-linecap="round">
<path d="M50.50,440.42 C51.50,440.45 54.50,440.62 56.50,440.63 C58.50,440.65 60.50,440.50 62.50,440.51 C64.50,440.52 66.50,440.64 68.50,440.67 C70.50,440.70 72.50,440.75 74.50,440.69 C76.50,440.63 78.50,440.37 80.50,440.30 C82.50,440.22 84.50,440.17 86.50,440.26 C88.50,440.35 90.50,440.81 92.50,440.84 C94.50,440.86 96.50,440.50 98.50,440.43 C100.50,440.36 102.50,440.33 104.50,440.41 C106.50,440.50 108.50,440.92 110.50,440.95 C112.50,440.97 114.50,440.60 116.50,440.58 C118.50,440.56 120.50,440.83 122.50,440.84 C124.50,440.84 126.50,440.61 128.50,440.58 C130.50,440.56 132.50,440.74 134.50,440.70 C136.50,440.66 138.50,440.36 140.50,440.36 C142.50,440.35 144.50,440.61 146.50,440.69 C148.50,440.78 150.50,440.87 152.50,440.86 C154.50,440.84 156.50,440.63 158.50,440.62 C160.50,440.60 162.50,440.75 164.50,440.77 C166.50,440.79 168.50,440.80 170.50,440.72 C172.50,440.64 174.50,440.28 176.50,440.29 C178.50,440.30 180.50,440.72 182.50,440.78 C184.50,440.84 186.50,440.72 188.50,440.66 C190.50,440.61 191.75,440.74 194.50,440.46 C197.25,440.18 202.42,439.08 205.00,439.00 C207.58,438.92 207.50,439.75 210.00,440.00 C212.50,440.25 216.33,440.40 220.00,440.50 C223.67,440.60 229.00,440.72 232.00,440.60 C235.00,440.48 236.33,440.32 238.00,439.80 C239.67,439.28 240.67,438.80 242.00,437.50 C243.33,436.20 244.92,433.75 246.00,432.00 C247.08,430.25 247.82,428.10 248.50,427.00 C249.18,425.90 249.52,425.43 250.10,425.40 C250.68,425.37 251.18,425.70 252.00,426.80 C252.82,427.90 254.00,430.30 255.00,432.00 C256.00,433.70 256.83,435.75 258.00,437.00 C259.17,438.25 260.00,438.92 262.00,439.50 C264.00,440.08 267.00,440.40 270.00,440.50 C273.00,440.60 277.55,440.47 280.00,440.10 C282.45,439.73 283.15,439.18 284.70,438.30 C286.25,437.42 288.05,436.15 289.30,434.80 C290.55,433.45 291.42,432.23 292.20,430.20 C292.98,428.17 293.50,425.62 294.00,422.60 C294.50,419.58 294.82,415.78 295.20,412.10 C295.58,408.42 295.97,404.97 296.30,400.50 C296.63,396.03 296.90,389.77 297.20,385.30 C297.50,380.83 297.82,376.42 298.10,373.70 C298.38,370.98 298.62,369.20 298.90,369.00 C299.18,368.80 299.50,370.17 299.80,372.50 C300.10,374.83 300.40,378.92 300.70,383.00 C301.00,387.08 301.27,391.95 301.60,397.00 C301.93,402.05 302.32,408.65 302.70,413.30 C303.08,417.95 303.50,421.98 303.90,424.90 C304.30,427.82 304.52,429.53 305.10,430.80 C305.68,432.07 306.53,432.32 307.40,432.50 C308.27,432.68 309.23,431.32 310.30,431.90 C311.37,432.48 312.63,435.52 313.80,436.00 C314.97,436.48 316.23,434.50 317.30,434.80 C318.37,435.10 319.13,436.82 320.20,437.80 C321.27,438.78 322.57,440.20 323.70,440.70 C324.83,441.20 325.95,440.90 327.00,440.80 C328.05,440.70 328.83,440.57 330.00,440.10 C331.17,439.63 332.77,438.82 334.00,438.00 C335.23,437.18 336.40,435.37 337.40,435.20 C338.40,435.03 339.07,436.20 340.00,437.00 C340.93,437.80 341.75,439.45 343.00,440.00 C344.25,440.55 346.00,440.20 347.50,440.30 C349.00,440.40 349.92,440.60 352.00,440.60 C354.08,440.60 357.83,440.63 360.00,440.30 C362.17,439.97 363.33,438.62 365.00,438.60 C366.67,438.58 367.80,440.20 370.00,440.20 C372.20,440.20 375.70,438.55 378.20,438.60 C380.70,438.65 383.03,440.35 385.00,440.50 C386.97,440.65 388.22,439.97 390.00,439.50 C391.78,439.03 393.70,437.75 395.70,437.70 C397.70,437.65 400.17,439.23 402.00,439.20 C403.83,439.17 405.43,438.52 406.70,437.50 C407.97,436.48 408.73,435.20 409.60,433.10 C410.47,431.00 411.23,428.20 411.90,424.90 C412.57,421.60 413.08,417.37 413.60,413.30 C414.12,409.23 414.57,405.17 415.00,400.50 C415.43,395.83 415.80,389.97 416.20,385.30 C416.60,380.63 417.05,375.42 417.40,372.50 C417.75,369.58 417.95,367.80 418.30,367.80 C418.65,367.80 419.12,369.58 419.50,372.50 C419.88,375.42 420.22,380.63 420.60,385.30 C420.98,389.97 421.37,395.65 421.80,400.50 C422.23,405.35 422.72,409.93 423.20,414.40 C423.68,418.87 424.15,423.80 424.70,427.30 C425.25,430.80 425.62,433.30 426.50,435.40 C427.38,437.50 428.65,439.12 430.00,439.90 C431.35,440.68 432.85,440.32 434.60,440.10 C436.35,439.88 438.77,438.70 440.50,438.60 C442.23,438.50 443.42,439.18 445.00,439.50 C446.58,439.82 448.17,440.37 450.00,440.50 C451.83,440.63 454.00,440.21 456.00,440.27 C458.00,440.33 460.00,440.80 462.00,440.86 C464.00,440.91 466.00,440.60 468.00,440.58 C470.00,440.56 472.00,440.71 474.00,440.75 C476.00,440.80 478.00,440.87 480.00,440.87 C482.00,440.86 484.00,440.74 486.00,440.75 C488.00,440.75 490.00,440.93 492.00,440.89 C494.00,440.86 496.00,440.54 498.00,440.53 C500.00,440.51 502.00,440.80 504.00,440.81 C506.00,440.82 508.00,440.55 510.00,440.56 C512.00,440.58 514.00,440.85 516.00,440.90 C518.00,440.96 520.00,440.96 522.00,440.87 C524.00,440.77 526.00,440.40 528.00,440.32 C530.00,440.23 532.00,440.33 534.00,440.35 C536.00,440.36 538.00,440.31 540.00,440.40 C542.00,440.50 544.00,440.90 546.00,440.93 C548.00,440.95 550.00,440.59 552.00,440.56 C554.00,440.52 556.00,440.70 558.00,440.69 C560.00,440.67 562.00,440.47 564.00,440.46 C566.00,440.45 568.00,440.60 570.00,440.61 C572.00,440.61 574.00,440.54 576.00,440.52 C578.00,440.50 580.00,440.47 582.00,440.50 C584.00,440.52 586.00,440.63 588.00,440.66 C590.00,440.69 592.00,440.62 594.00,440.66 C596.00,440.70 598.00,440.87 600.00,440.88 C602.00,440.89 604.00,440.72 606.00,440.73 C608.00,440.73 610.00,440.88 612.00,440.90 C614.00,440.92 616.00,440.84 618.00,440.85 C620.00,440.86 622.00,440.97 624.00,440.94 C626.00,440.92 628.00,440.82 630.00,440.72 C632.00,440.62 634.00,440.34 636.00,440.36 C638.00,440.39 640.00,440.76 642.00,440.85 C644.00,440.95 646.00,440.92 648.00,440.93 C650.00,440.93 652.00,440.93 654.00,440.88 C656.00,440.84 658.00,440.67 660.00,440.65 C662.00,440.63 664.00,440.79 666.00,440.75 C668.00,440.71 670.42,440.42 672.00,440.40 C673.58,440.37 674.92,440.57 675.50,440.60" stroke="#3526f0" stroke-width="1.55"/>
<path d="M50.50,522.50 C55.42,522.55 70.08,522.80 80.00,522.80 C89.92,522.80 100.00,522.50 110.00,522.50 C120.00,522.50 130.00,522.82 140.00,522.80 C150.00,522.78 162.50,522.45 170.00,522.40 C177.50,522.35 181.12,522.13 185.00,522.50 C188.88,522.87 190.80,524.22 193.30,524.60 C195.80,524.98 197.68,525.00 200.00,524.80 C202.32,524.60 204.48,523.43 207.20,523.40 C209.92,523.37 213.25,524.53 216.30,524.60 C219.35,524.67 222.77,524.45 225.50,523.80 C228.23,523.15 230.30,520.80 232.70,520.70 C235.10,520.60 237.85,523.53 239.90,523.20 C241.95,522.87 243.48,520.47 245.00,518.70 C246.52,516.93 247.47,512.27 249.00,512.60 C250.53,512.93 252.15,518.50 254.20,520.70 C256.25,522.90 259.10,524.60 261.30,525.80 C263.50,527.00 265.18,526.87 267.40,527.90 C269.62,528.93 271.87,532.17 274.60,532.00 C277.33,531.83 281.47,528.60 283.80,526.90 C286.13,525.20 287.15,523.77 288.60,521.80 C290.05,519.83 291.53,517.18 292.50,515.10 C293.47,513.02 293.85,511.70 294.40,509.30 C294.95,506.90 295.35,503.73 295.80,500.70 C296.25,497.67 296.70,493.82 297.10,491.10 C297.50,488.38 297.85,485.68 298.20,484.40 C298.55,483.12 298.85,482.92 299.20,483.40 C299.55,483.88 299.90,485.05 300.30,487.30 C300.70,489.55 301.15,493.70 301.60,496.90 C302.05,500.10 302.43,503.78 303.00,506.50 C303.57,509.22 304.27,511.90 305.00,513.20 C305.73,514.50 306.45,514.55 307.40,514.30 C308.35,514.05 309.75,511.80 310.70,511.70 C311.65,511.60 312.22,512.57 313.10,513.70 C313.98,514.83 314.97,517.07 316.00,518.50 C317.03,519.93 318.10,521.03 319.30,522.30 C320.50,523.57 321.92,525.25 323.20,526.10 C324.48,526.95 325.87,527.17 327.00,527.40 C328.13,527.63 328.83,527.82 330.00,527.50 C331.17,527.18 332.63,525.95 334.00,525.50 C335.37,525.05 336.70,524.47 338.20,524.80 C339.70,525.13 341.30,526.30 343.00,527.50 C344.70,528.70 346.90,531.83 348.40,532.00 C349.90,532.17 350.63,529.80 352.00,528.50 C353.37,527.20 355.10,525.15 356.60,524.20 C358.10,523.25 359.47,523.13 361.00,522.80 C362.53,522.47 364.13,522.17 365.80,522.20 C367.47,522.23 369.13,522.90 371.00,523.00 C372.87,523.10 375.33,522.55 377.00,522.80 C378.67,523.05 379.63,523.65 381.00,524.50 C382.37,525.35 383.87,526.57 385.20,527.90 C386.53,529.23 387.63,530.47 389.00,532.50 C390.37,534.53 392.40,538.87 393.40,540.10 C394.40,541.33 394.02,540.78 395.00,539.90 C395.98,539.02 397.62,536.85 399.30,534.80 C400.98,532.75 403.30,529.75 405.10,527.60 C406.90,525.45 408.78,524.05 410.10,521.90 C411.42,519.75 412.17,517.82 413.00,514.70 C413.83,511.58 414.38,507.75 415.10,503.20 C415.82,498.65 416.58,493.15 417.30,487.40 C418.02,481.65 418.77,474.68 419.40,468.70 C420.03,462.72 420.62,454.97 421.10,451.50 C421.58,448.03 421.87,448.02 422.30,447.90 C422.73,447.78 423.17,447.33 423.70,450.80 C424.23,454.27 424.90,462.60 425.50,468.70 C426.10,474.80 426.63,481.65 427.30,487.40 C427.97,493.15 428.65,498.65 429.50,503.20 C430.35,507.75 431.33,512.02 432.40,514.70 C433.47,517.38 434.47,518.33 435.90,519.30 C437.33,520.27 439.23,520.27 441.00,520.50 C442.77,520.73 444.67,520.28 446.50,520.70 C448.33,521.12 449.95,522.15 452.00,523.00 C454.05,523.85 457.13,524.80 458.80,525.80 C460.47,526.80 460.98,527.70 462.00,529.00 C463.02,530.30 463.98,533.43 464.90,533.60 C465.82,533.77 466.65,531.47 467.50,530.00 C468.35,528.53 468.92,525.98 470.00,524.80 C471.08,523.62 471.50,523.23 474.00,522.90 C476.50,522.57 481.00,523.00 485.00,522.80 C489.00,522.60 492.17,521.78 498.00,521.70 C503.83,521.62 509.67,522.20 520.00,522.30 C530.33,522.40 546.67,522.30 560.00,522.30 C573.33,522.30 586.67,522.30 600.00,522.30 C613.33,522.30 627.42,522.30 640.00,522.30 C652.58,522.30 669.58,522.30 675.50,522.30" stroke="#111" stroke-width="1.6"/>
<path d="M50.50,603.60 C53.75,603.42 64.08,602.85 70.00,602.50 C75.92,602.15 80.78,601.35 86.00,601.50 C91.22,601.65 96.45,603.45 101.30,603.40 C106.15,603.35 110.65,601.27 115.10,601.20 C119.55,601.13 123.65,602.58 128.00,603.00 C132.35,603.42 136.45,603.95 141.20,603.70 C145.95,603.45 151.70,601.60 156.50,601.50 C161.30,601.40 166.48,602.63 170.00,603.10 C173.52,603.57 175.60,604.40 177.60,604.30 C179.60,604.20 180.42,603.38 182.00,602.50 C183.58,601.62 185.60,600.03 187.10,599.00 C188.60,597.97 189.58,597.18 191.00,596.30 C192.42,595.42 194.03,594.10 195.60,593.70 C197.17,593.30 198.97,594.03 200.40,593.90 C201.83,593.77 202.63,592.53 204.20,592.90 C205.77,593.27 207.92,595.08 209.80,596.10 C211.68,597.12 213.60,598.27 215.50,599.00 C217.40,599.73 218.98,600.03 221.20,600.50 C223.42,600.97 226.27,601.48 228.80,601.80 C231.33,602.12 234.50,602.18 236.40,602.40 C238.30,602.62 238.62,602.78 240.20,603.10 C241.78,603.42 244.00,604.60 245.90,604.30 C247.80,604.00 249.38,602.18 251.60,601.30 C253.82,600.42 257.15,599.62 259.20,599.00 C261.25,598.38 262.32,598.80 263.90,597.60 C265.48,596.40 267.43,593.00 268.70,591.80 C269.97,590.60 270.62,590.95 271.50,590.40 C272.38,589.85 273.20,588.50 274.00,588.50 C274.80,588.50 275.55,589.48 276.30,590.40 C277.05,591.32 277.72,592.73 278.50,594.00 C279.28,595.27 279.95,597.05 281.00,598.00 C282.05,598.95 283.70,599.47 284.80,599.70 C285.90,599.93 286.33,598.80 287.60,599.40 C288.87,600.00 291.40,602.60 292.40,603.30 C293.40,604.00 292.33,603.48 293.60,603.60 C294.87,603.72 297.10,604.03 300.00,604.00 C302.90,603.97 308.67,603.33 311.00,603.40 C313.33,603.47 313.17,604.43 314.00,604.40 C314.83,604.37 315.00,603.50 316.00,603.20 C317.00,602.90 318.37,603.30 320.00,602.60 C321.63,601.90 324.13,600.43 325.80,599.00 C327.47,597.57 328.72,595.58 330.00,594.00 C331.28,592.42 332.42,590.55 333.50,589.50 C334.58,588.45 335.37,588.02 336.50,587.70 C337.63,587.38 339.28,588.22 340.30,587.60 C341.32,586.98 341.82,586.10 342.60,584.00 C343.38,581.90 344.22,577.62 345.00,575.00 C345.78,572.38 346.63,568.80 347.30,568.30 C347.97,567.80 348.42,570.22 349.00,572.00 C349.58,573.78 350.07,576.33 350.80,579.00 C351.53,581.67 352.40,585.03 353.40,588.00 C354.40,590.97 355.58,594.63 356.80,596.80 C358.02,598.97 359.50,600.17 360.70,601.00 C361.90,601.83 362.68,601.67 364.00,601.80 C365.32,601.93 366.75,601.37 368.60,601.80 C370.45,602.23 373.15,604.42 375.10,604.40 C377.05,604.38 378.75,603.17 380.30,601.70 C381.85,600.23 383.30,598.17 384.40,595.60 C385.50,593.03 386.13,589.90 386.90,586.30 C387.67,582.70 388.40,577.93 389.00,574.00 C389.60,570.07 389.98,566.63 390.50,562.70 C391.02,558.77 391.55,553.57 392.10,550.40 C392.65,547.23 393.20,544.22 393.80,543.70 C394.40,543.18 395.05,544.98 395.70,547.30 C396.35,549.62 396.93,553.67 397.70,557.60 C398.47,561.53 399.43,566.80 400.30,570.90 C401.17,575.00 402.05,578.43 402.90,582.20 C403.75,585.97 404.47,590.58 405.40,593.50 C406.33,596.42 407.22,598.15 408.50,599.70 C409.78,601.25 411.65,602.12 413.10,602.80 C414.55,603.48 415.22,603.67 417.20,603.80 C419.18,603.93 422.03,603.57 425.00,603.60 C427.97,603.63 431.33,604.02 435.00,604.00 C438.67,603.98 444.00,603.83 447.00,603.50 C450.00,603.17 451.25,602.83 453.00,602.00 C454.75,601.17 456.25,600.17 457.50,598.50 C458.75,596.83 459.62,594.58 460.50,592.00 C461.38,589.42 462.18,585.50 462.80,583.00 C463.42,580.50 463.83,578.27 464.20,577.00 C464.57,575.73 464.70,575.32 465.00,575.40 C465.30,575.48 465.58,575.73 466.00,577.50 C466.42,579.27 466.92,582.92 467.50,586.00 C468.08,589.08 468.72,593.42 469.50,596.00 C470.28,598.58 470.95,600.33 472.20,601.50 C473.45,602.67 475.22,602.70 477.00,603.00 C478.78,603.30 480.90,603.55 482.90,603.30 C484.90,603.05 487.40,602.38 489.00,601.50 C490.60,600.62 491.43,598.88 492.50,598.00 C493.57,597.12 494.40,596.12 495.40,596.20 C496.40,596.28 497.30,597.32 498.50,598.50 C499.70,599.68 500.68,602.38 502.60,603.30 C504.52,604.22 507.77,603.85 510.00,604.00 C512.23,604.15 514.00,604.19 516.00,604.20 C518.00,604.21 520.00,604.10 522.00,604.04 C524.00,603.99 526.00,603.92 528.00,603.87 C530.00,603.82 532.00,603.68 534.00,603.74 C536.00,603.79 538.00,604.12 540.00,604.21 C542.00,604.31 544.00,604.37 546.00,604.29 C548.00,604.22 550.00,603.77 552.00,603.75 C554.00,603.73 556.00,604.15 558.00,604.18 C560.00,604.21 562.00,604.01 564.00,603.95 C566.00,603.88 568.00,603.80 570.00,603.79 C572.00,603.78 574.00,603.81 576.00,603.88 C578.00,603.94 580.00,604.10 582.00,604.16 C584.00,604.22 586.00,604.30 588.00,604.22 C590.00,604.15 592.00,603.75 594.00,603.73 C596.00,603.70 598.00,604.07 600.00,604.07 C602.00,604.07 604.00,603.72 606.00,603.73 C608.00,603.74 610.00,604.10 612.00,604.13 C614.00,604.16 616.00,603.88 618.00,603.90 C620.00,603.91 622.00,604.16 624.00,604.23 C626.00,604.29 628.00,604.33 630.00,604.29 C632.00,604.25 634.00,604.00 636.00,604.00 C638.00,604.01 640.00,604.32 642.00,604.30 C644.00,604.28 646.00,603.98 648.00,603.89 C650.00,603.79 652.00,603.72 654.00,603.75 C656.00,603.78 658.00,604.06 660.00,604.06 C662.00,604.06 664.00,603.76 666.00,603.72 C668.00,603.68 670.42,603.77 672.00,603.82 C673.58,603.87 674.92,603.97 675.50,604.00" stroke="#eea23a" stroke-width="1.6"/>
<path d="M50.50,685.80 C52.08,685.63 56.63,685.12 60.00,684.80 C63.37,684.48 66.37,684.18 70.70,683.90 C75.03,683.62 80.90,682.98 86.00,683.10 C91.10,683.22 96.45,684.65 101.30,684.60 C106.15,684.55 110.50,682.80 115.10,682.80 C119.70,682.80 124.55,684.20 128.90,684.60 C133.25,685.00 136.60,685.40 141.20,685.20 C145.80,685.00 151.40,683.40 156.50,683.40 C161.60,683.40 167.20,685.57 171.80,685.20 C176.40,684.83 180.52,682.63 184.10,681.20 C187.68,679.77 190.23,677.57 193.30,676.60 C196.37,675.63 199.70,675.28 202.50,675.40 C205.30,675.52 207.55,676.33 210.10,677.30 C212.65,678.27 214.47,680.18 217.80,681.20 C221.13,682.22 226.70,682.95 230.10,683.40 C233.50,683.85 236.17,683.47 238.20,683.90 C240.23,684.33 241.08,686.32 242.30,686.00 C243.52,685.68 244.42,683.27 245.50,682.00 C246.58,680.73 247.80,678.73 248.80,678.40 C249.80,678.07 250.55,679.42 251.50,680.00 C252.45,680.58 252.63,681.35 254.50,681.90 C256.37,682.45 260.13,683.88 262.70,683.30 C265.27,682.72 268.03,679.55 269.90,678.40 C271.77,677.25 272.80,676.47 273.90,676.40 C275.00,676.33 275.65,677.25 276.50,678.00 C277.35,678.75 277.90,679.67 279.00,680.90 C280.10,682.13 281.38,685.23 283.10,685.40 C284.82,685.57 287.42,683.00 289.30,681.90 C291.18,680.80 293.20,680.45 294.40,678.80 C295.60,677.15 295.90,674.47 296.50,672.00 C297.10,669.53 297.50,665.83 298.00,664.00 C298.50,662.17 299.00,660.83 299.50,661.00 C300.00,661.17 300.53,663.50 301.00,665.00 C301.47,666.50 301.87,668.38 302.30,670.00 C302.73,671.62 302.88,673.05 303.60,674.70 C304.32,676.35 305.42,679.28 306.60,679.90 C307.78,680.52 309.17,677.90 310.70,678.40 C312.23,678.90 313.75,681.63 315.80,682.90 C317.85,684.17 320.62,686.68 323.00,686.00 C325.38,685.32 327.72,681.18 330.10,678.80 C332.48,676.42 335.42,673.13 337.30,671.70 C339.18,670.27 340.20,671.65 341.40,670.20 C342.60,668.75 343.48,665.32 344.50,663.00 C345.52,660.68 346.50,656.47 347.50,656.30 C348.50,656.13 349.48,659.60 350.50,662.00 C351.52,664.40 352.22,667.38 353.60,670.70 C354.98,674.02 356.92,679.77 358.80,681.90 C360.68,684.03 363.15,683.13 364.90,683.50 C366.65,683.87 367.38,683.65 369.30,684.10 C371.22,684.55 374.12,686.80 376.40,686.20 C378.68,685.60 381.48,683.20 383.00,680.50 C384.52,677.80 384.78,673.58 385.50,670.00 C386.22,666.42 386.63,663.00 387.30,659.00 C387.97,655.00 388.75,649.28 389.50,646.00 C390.25,642.72 390.98,640.77 391.80,639.30 C392.62,637.83 393.50,637.12 394.40,637.20 C395.30,637.28 396.35,638.00 397.20,639.80 C398.05,641.60 398.78,645.05 399.50,648.00 C400.22,650.95 400.72,653.83 401.50,657.50 C402.28,661.17 402.95,665.88 404.20,670.00 C405.45,674.12 407.65,681.20 409.00,682.20 C410.35,683.20 411.25,679.20 412.30,676.00 C413.35,672.80 414.38,667.58 415.30,663.00 C416.22,658.42 417.00,652.33 417.80,648.50 C418.60,644.67 419.28,641.88 420.10,640.00 C420.92,638.12 421.83,637.15 422.70,637.20 C423.57,637.25 424.50,638.17 425.30,640.30 C426.10,642.43 426.80,646.80 427.50,650.00 C428.20,653.20 428.78,656.33 429.50,659.50 C430.22,662.67 430.93,665.92 431.80,669.00 C432.67,672.08 433.58,675.67 434.70,678.00 C435.82,680.33 436.93,681.90 438.50,683.00 C440.07,684.10 441.62,684.15 444.10,684.60 C446.58,685.05 450.87,686.28 453.40,685.70 C455.93,685.12 457.87,683.22 459.30,681.10 C460.73,678.98 461.27,675.52 462.00,673.00 C462.73,670.48 463.18,667.58 463.70,666.00 C464.22,664.42 464.62,663.33 465.10,663.50 C465.58,663.67 465.82,664.85 466.60,667.00 C467.38,669.15 468.48,673.20 469.80,676.40 C471.12,679.60 471.78,684.72 474.50,686.20 C477.22,687.68 483.18,686.33 486.10,685.30 C489.02,684.27 490.43,681.40 492.00,680.00 C493.57,678.60 494.33,676.90 495.50,676.90 C496.67,676.90 497.83,678.72 499.00,680.00 C500.17,681.28 500.75,683.57 502.50,684.60 C504.25,685.63 506.58,686.08 509.50,686.20 C512.42,686.32 516.92,685.41 520.00,685.30 C523.08,685.19 525.67,685.48 528.00,685.54 C530.33,685.61 532.00,685.69 534.00,685.67 C536.00,685.64 538.00,685.45 540.00,685.39 C542.00,685.34 544.00,685.25 546.00,685.33 C548.00,685.40 550.00,685.79 552.00,685.82 C554.00,685.85 556.00,685.48 558.00,685.49 C560.00,685.50 562.00,685.82 564.00,685.88 C566.00,685.93 568.00,685.90 570.00,685.84 C572.00,685.78 574.00,685.57 576.00,685.53 C578.00,685.48 580.00,685.56 582.00,685.58 C584.00,685.59 586.00,685.59 588.00,685.61 C590.00,685.63 592.00,685.68 594.00,685.69 C596.00,685.69 598.00,685.67 600.00,685.66 C602.00,685.65 604.00,685.63 606.00,685.64 C608.00,685.64 610.00,685.63 612.00,685.67 C614.00,685.71 616.00,685.88 618.00,685.86 C620.00,685.85 622.00,685.66 624.00,685.60 C626.00,685.55 628.00,685.54 630.00,685.56 C632.00,685.58 634.00,685.75 636.00,685.73 C638.00,685.71 640.00,685.48 642.00,685.44 C644.00,685.40 646.00,685.41 648.00,685.48 C650.00,685.55 652.00,685.86 654.00,685.89 C656.00,685.91 658.00,685.66 660.00,685.61 C662.00,685.57 664.00,685.68 666.00,685.63 C668.00,685.58 670.42,685.31 672.00,685.31 C673.58,685.30 674.92,685.55 675.50,685.60" stroke="#ee2a24" stroke-width="1.8"/>
</g>
<g stroke="#777" stroke-width="0.9">
<line x1="197.5" y1="676.5" x2="197.5" y2="664.2"/>
<line x1="204.6" y1="675.5" x2="204.6" y2="664.2"/>
<line x1="248.5" y1="678.4" x2="248.5" y2="666.4"/>
<line x1="273.3" y1="676.4" x2="273.3" y2="664.2"/>
<line x1="298.7" y1="661" x2="298.7" y2="650.3"/>
<line x1="347.6" y1="656.4" x2="347.6" y2="644.4"/>
<line x1="394.2" y1="637.4" x2="394.2" y2="628.4"/>
<line x1="422.3" y1="637.4" x2="422.3" y2="628.4"/>
<line x1="464.5" y1="663.5" x2="464.5" y2="652"/>
<line x1="495.6" y1="676.9" x2="495.6" y2="664.4"/>
</g>
<g style="font-family:'Liberation Sans',sans-serif;font-size:11.5px" fill="#1a1a1a">
<text transform="translate(194.00,664.75) rotate(51)" text-anchor="end" style="">848</text>
<text transform="translate(206.15,661.80) rotate(51)" text-anchor="end" style="">868</text>
<text transform="translate(250.95,664.70) rotate(51)" text-anchor="end" style="font-weight:bold;">1006</text>
<text transform="translate(275.20,662.70) rotate(51)" text-anchor="end" style="">1079</text>
<text transform="translate(299.60,649.30) rotate(51)" text-anchor="end" style="font-weight:bold;">1156</text>
<text transform="translate(347.85,644.00) rotate(51)" text-anchor="end" style="">1304</text>
<text transform="translate(397.15,627.70) rotate(51)" text-anchor="end" style="">1445</text>
<text transform="translate(424.05,628.90) rotate(51)" text-anchor="end" style="font-weight:bold;">1533</text>
<text transform="translate(464.25,651.00) rotate(51)" text-anchor="end" style="">1663</text>
<text transform="translate(496.40,663.90) rotate(51)" text-anchor="end" style="">1754</text>
</g>
<defs>
<linearGradient id="yl2" x1="0" x2="1" y1="0" y2="0"><stop offset="0" stop-color="#d6d25a"/><stop offset="0.3" stop-color="#e6e4a8"/><stop offset="0.7" stop-color="#e8e6b0"/><stop offset="1" stop-color="#d8d460"/></linearGradient>
<linearGradient id="yl2v" x1="0" x2="0" y1="0" y2="1"><stop offset="0" stop-color="#d8d040" stop-opacity="1"/><stop offset="0.3" stop-color="#dcd660" stop-opacity="0"/><stop offset="0.8" stop-color="#dcd660" stop-opacity="0"/><stop offset="1" stop-color="#d8cc50" stop-opacity="0.9"/></linearGradient>
<linearGradient id="or2" x1="0" x2="0" y1="0" y2="1"><stop offset="0" stop-color="#d8902e"/><stop offset="0.5" stop-color="#d2822a"/><stop offset="1" stop-color="#c97a2c"/></linearGradient>
<linearGradient id="yl1" x1="0" x2="0" y1="0" y2="1"><stop offset="0" stop-color="#d2cf62"/><stop offset="0.25" stop-color="#c9c643"/><stop offset="1" stop-color="#c4c03c"/></linearGradient>
</defs>
<rect x="589.2" y="528.1" width="39.6" height="69.8" fill="#d5d5d1"/>
<path d="M592.6,557.1 Q592.6,555.1 595.2,555.1 L622.2,555.1 Q625.0,555.1 625.0,557.1 L625.0,593.1 Q625.0,595.1 622.2,595.1 L595.2,595.1 Q592.6,595.1 592.6,593.1 Z" fill="#e7e8e3"/>
<path d="M592.8000000000001,580.3000000000001 Q601.2,578.9 609.2,579.3000000000001 Q617.2,579.7 624.8000000000001,580.3000000000001 L624.8000000000001,593.1 Q624.8000000000001,595.1 622.2,595.1 L595.2,595.1 Q592.8000000000001,595.1 592.8000000000001,593.1 Z" fill="url(#yl1)"/>
<rect x="603.1" y="562.1" width="1.1" height="30" fill="#f7f7f2" opacity="0.75"/>
<rect x="611.3000000000001" y="561.1" width="1.1" height="22" fill="#f7f7f2" opacity="0.6"/>
<rect x="592.4000000000001" y="552.7" width="32.4" height="2.6" fill="#e6e6e0"/>
<path d="M591.0,554.1 L592.4000000000001,551.1 L592.4000000000001,534.6 Q592.4000000000001,532.1 595.2,532.1 L618.2,532.1 L622.4000000000001,536.1 L622.4000000000001,551.1 L624.8000000000001,554.1 Z" fill="#121212"/>
<rect x="598.7" y="535.1" width="1.3" height="15" fill="#3a3a3a"/>
<rect x="602.7" y="535.1" width="1.3" height="15" fill="#333"/>
<rect x="589.3" y="611.0" width="39.6" height="70" fill="#d5d5d1"/>
<path d="M592.6999999999999,637.5 L625.0999999999999,637.5 L625.0999999999999,663.0 L592.6999999999999,663.0 Z" fill="url(#yl2)"/>
<path d="M592.6999999999999,637.5 L625.0999999999999,637.5 L625.0999999999999,663.0 L592.6999999999999,663.0 Z" fill="url(#yl2v)"/>
<path d="M592.6999999999999,662.5 L625.0999999999999,662.5 L625.0999999999999,675.5 Q625.0999999999999,678.0 622.3,678.0 L595.3,678.0 Q592.6999999999999,678.0 592.6999999999999,675.5 Z" fill="url(#or2)"/>
<rect x="603.1999999999999" y="644.0" width="1.1" height="26" fill="#f7f7ee" opacity="0.7"/>
<rect x="611.4" y="644.0" width="1.1" height="18" fill="#f7f7ee" opacity="0.5"/>
<path d="M591.0999999999999,637.6 L592.5,634.6 L592.5,618.1 Q592.5,615.6 595.3,615.6 L618.3,615.6 L622.5,619.6 L622.5,634.6 L624.9,637.6 Z" fill="#121212"/>
<rect x="598.8" y="618.6" width="1.3" height="15" fill="#3a3a3a"/>
<rect x="602.8" y="618.6" width="1.3" height="15" fill="#333"/>
<circle cx="619.5" cy="618.8000000000001" r="3.6" fill="#ececec"/>
<text transform="translate(640.2,31.6) scale(0.88,1.06)" style="font-family:'Liberation Sans',sans-serif;font-size:21px;font-weight:bold" fill="#000">a</text>
<text x="647" y="391.1" style="font-family:'Liberation Sans',sans-serif;font-size:21px;font-weight:bold" fill="#000">b</text>
</svg>
</div></body></html>
